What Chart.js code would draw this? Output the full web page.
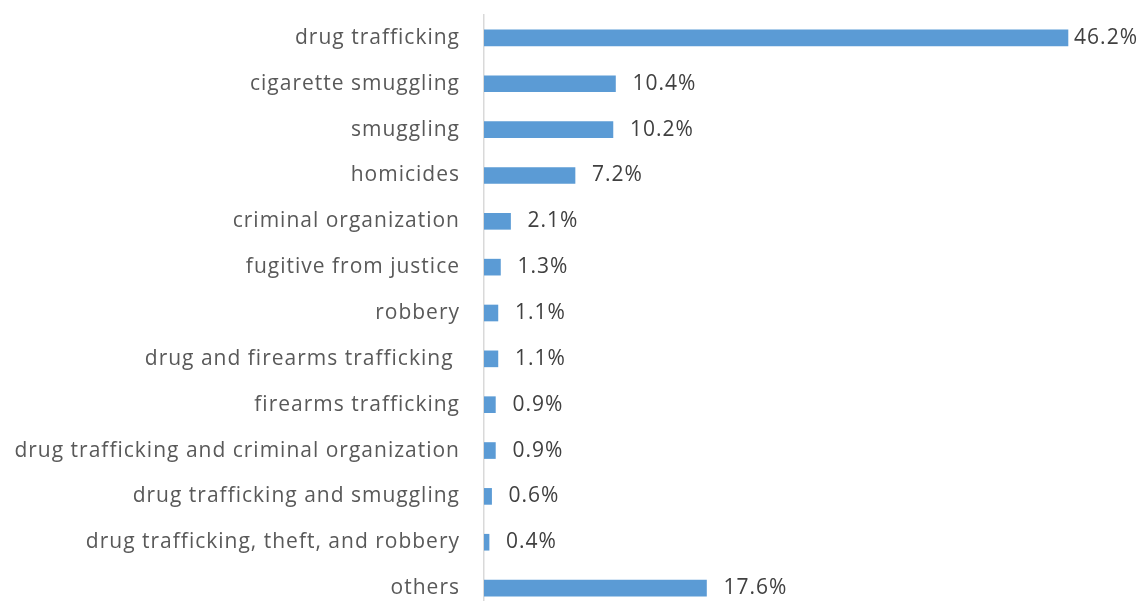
<!DOCTYPE html>
<html>
<head>
<meta charset="utf-8">
<script src="https://cdn.jsdelivr.net/npm/chart.js@4"></script>
<style>
  html, body { margin: 0; padding: 0; background: #ffffff; overflow: hidden; }
  canvas { display: block; }
</style>
</head>
<body>
<canvas id="chart" width="1139" height="611"></canvas>
<script>
const categories = [
  'drug trafficking',
  'cigarette smuggling',
  'smuggling',
  'homicides',
  'criminal organization',
  'fugitive from justice',
  'robbery',
  'drug and firearms trafficking ',
  'firearms trafficking',
  'drug trafficking and criminal organization',
  'drug trafficking and smuggling',
  'drug trafficking, theft, and robbery',
  'others'
];
const shares = [46.2, 10.4, 10.2, 7.2, 2.1, 1.3, 1.1, 1.1, 0.9, 0.9, 0.6, 0.4, 17.6];

const FONT = '"Open Sans", "Noto Sans", sans-serif';
const TEXT_SIZE = 21;
const SPACING = '1px';

// Category names on the left and percentages to the right of each bar
const textLayer = {
  id: 'textLayer',
  afterDatasetsDraw(chart) {
    const ctx = chart.ctx;
    const yScale = chart.scales.y;
    const meta = chart.getDatasetMeta(0);
    ctx.save();
    ctx.font = TEXT_SIZE + 'px ' + FONT;
    ctx.letterSpacing = SPACING;
    ctx.textBaseline = 'middle';

    ctx.fillStyle = '#595959';
    ctx.textAlign = 'right';
    categories.forEach((name, i) => {
      ctx.fillText(name, yScale.right - 24, yScale.getPixelForTick(i));
    });

    ctx.fillStyle = '#404040';
    ctx.textAlign = 'left';
    meta.data.forEach((bar, i) => {
      const text = shares[i].toFixed(1) + '%';
      const w = ctx.measureText(text).width;
      let x = bar.x + 17;
      const limit = chart.width - 1;
      if (x + w > limit) x = limit - w;
      ctx.fillText(text, x, bar.y);
    });
    ctx.restore();
  }
};

new Chart(document.getElementById('chart'), {
  type: 'bar',
  data: {
    labels: categories,
    datasets: [{
      data: shares,
      backgroundColor: '#5B9BD5',
      borderWidth: 0,
      barThickness: 16
    }]
  },
  options: {
    indexAxis: 'y',
    responsive: false,
    animation: false,
    layout: { padding: { top: 15, bottom: 0, left: 0, right: 23 } },
    plugins: { legend: { display: false }, tooltip: { enabled: false } },
    scales: {
      x: {
        display: false,
        min: 0,
        max: 50
      },
      y: {
        afterFit(scale) { scale.width = 484; },
        grid: { display: false, drawTicks: false },
        border: { display: true, color: '#D9D9D9', width: 1.5 },
        ticks: { display: false }
      }
    }
  },
  plugins: [textLayer]
});
</script>
</body>
</html>
